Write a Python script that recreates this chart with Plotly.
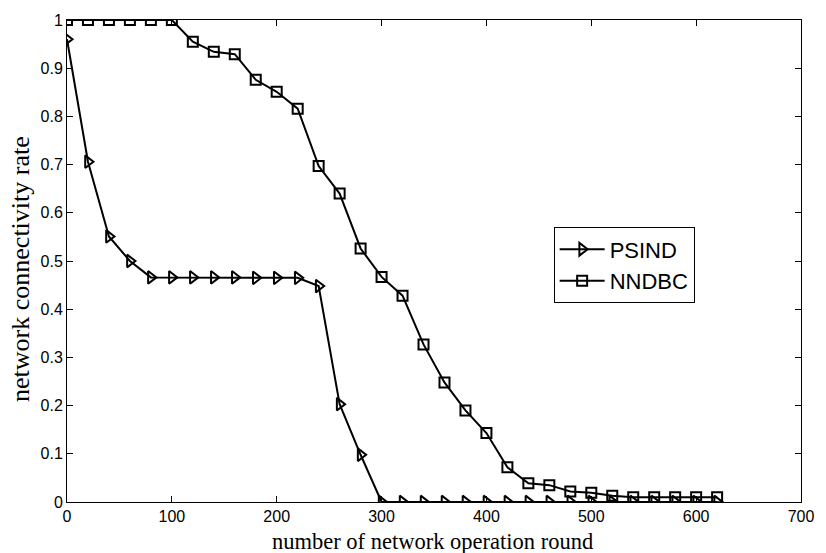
import plotly.graph_objects as go

rounds = list(range(0, 640, 20))
psind = [0.96, 0.706, 0.551, 0.500, 0.466, 0.466, 0.466, 0.466, 0.466, 0.465, 0.465, 0.465, 0.448,
         0.203, 0.098, 0.0, 0.0, 0.0, 0.0, 0.0, 0.0, 0.0, 0.0, 0.0, 0.0, 0.0, 0.0, 0.0, 0.0, 0.0, 0.0, 0.0]
nndbc = [1.0, 1.0, 1.0, 1.0, 1.0, 1.0, 0.955, 0.934, 0.929, 0.876, 0.851, 0.816, 0.697, 0.640,
         0.526, 0.467, 0.428, 0.327, 0.248, 0.190, 0.143, 0.072, 0.039, 0.035, 0.022, 0.019,
         0.013, 0.010, 0.010, 0.010, 0.010, 0.010]

x_ticks = [0, 100, 200, 300, 400, 500, 600, 700]
y_ticks = [0, 0.1, 0.2, 0.3, 0.4, 0.5, 0.6, 0.7, 0.8, 0.9, 1]
y_tick_labels = ["0", "0.1", "0.2", "0.3", "0.4", "0.5", "0.6", "0.7", "0.8", "0.9", "1"]

fig = go.Figure()
fig.add_trace(go.Scatter(
    x=rounds, y=psind, name="PSIND", mode="lines+markers",
    line=dict(color="black", width=2),
    marker=dict(symbol="triangle-right-open", size=11, color="black", line=dict(width=2)),
))
fig.add_trace(go.Scatter(
    x=rounds, y=nndbc, name="NNDBC", mode="lines+markers",
    line=dict(color="black", width=2),
    marker=dict(symbol="square-open", size=10, color="black", line=dict(width=2)),
))

axis_common = dict(
    showgrid=False, zeroline=False, showline=True, linecolor="black", linewidth=1,
    mirror="ticks", ticks="inside", ticklen=6, tickcolor="black", tickwidth=1,
    tickfont=dict(family="Liberation Sans, Arial", size=16, color="black"),
)
fig.update_xaxes(range=[0, 700], tickvals=x_ticks, ticklabelstandoff=0, **axis_common)
fig.update_yaxes(range=[0, 1], tickvals=y_ticks, ticktext=y_tick_labels, **axis_common)

serif = "Liberation Serif, Times New Roman"
fig.add_annotation(text="number of network operation round", xref="paper", yref="paper",
                   x=(436 - 67) / 742, y=-54 / 487, xanchor="center", yanchor="bottom",
                   showarrow=False, borderpad=0,
                   font=dict(family=serif, size=22.5, color="black"))
fig.add_annotation(text="network connectivity rate", xref="paper", yref="paper",
                   x=(20 - 67) / 742, y=(502 - 267) / 487, xanchor="center", yanchor="middle",
                   textangle=-90, showarrow=False, font=dict(family=serif, size=26, color="black"))

fig.update_layout(
    width=826, height=553,
    margin=dict(l=67, r=17, t=15, b=51),
    paper_bgcolor="white", plot_bgcolor="white",
    showlegend=True,
    legend=dict(x=0.663, y=(502 - 263) / 487, xanchor="left", yanchor="middle",
                bordercolor="black", borderwidth=1, bgcolor="white",
                font=dict(family="Liberation Sans, Arial", size=22, color="black"),
                tracegroupgap=0, itemwidth=45),
)

fig.write_html("out.html")
